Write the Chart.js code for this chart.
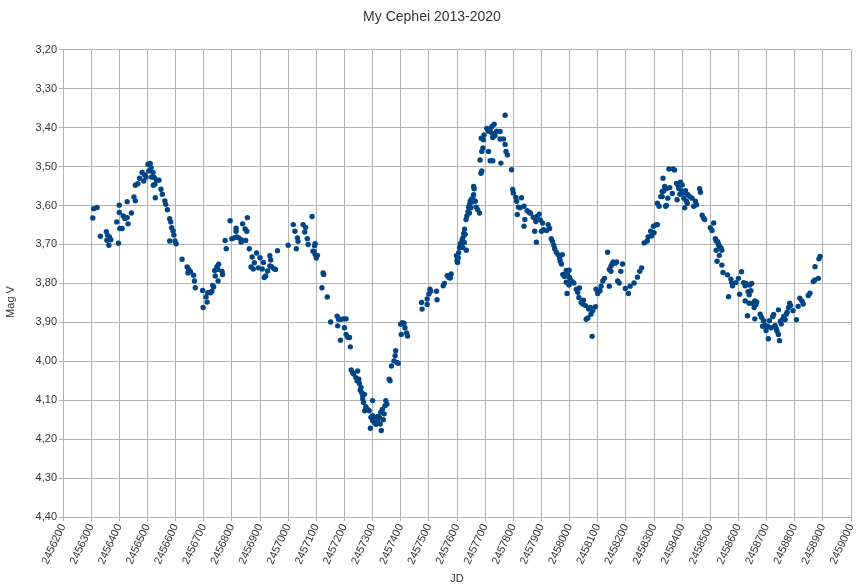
<!DOCTYPE html>
<html>
<head>
<meta charset="utf-8">
<script src="https://cdn.jsdelivr.net/npm/chart.js@4.4.1/dist/chart.umd.min.js"></script>
<style>
  html, body { margin: 0; padding: 0; background: #ffffff; }
  canvas { display: block; }
</style>
</head>
<body>
<canvas id="chart" width="864" height="588"></canvas>
<script>
// Julian dates and V magnitudes
const jd = [
  2456306, 2456309, 2456321, 2456333, 2456354, 2456358, 2456365, 2456356, 2456363, 2456370,
  2456397, 2456391, 2456402, 2456410, 2456400, 2456400, 2456414, 2456420, 2456431, 2456428,
  2456443, 2456428, 2456452, 2456457, 2456457, 2456466, 2456472, 2456481, 2456490, 2456495,
  2456487, 2456502, 2456510, 2456513, 2456505, 2456520, 2456514, 2456524, 2456532, 2456541,
  2456527, 2456521, 2456528, 2456548, 2456553, 2456562, 2456565, 2456571, 2456579, 2456583,
  2456586, 2456591, 2456594, 2456598, 2456602, 2456579, 2456623, 2456641, 2456647, 2456644,
  2456653, 2456664, 2456667, 2456670,
  2456696, 2456698, 2456708, 2456714, 2456712, 2456724, 2456729, 2456735, 2456732, 2456739,
  2456747, 2456753, 2456751, 2456741, 2456751, 2456765, 2456767, 2456776, 2456780, 2456794,
  2456800, 2456808, 2456815, 2456815, 2456818, 2456824, 2456833, 2456838, 2456847, 2456853,
  2456855, 2456849, 2456833, 2456862, 2456872, 2456888, 2456880, 2456900, 2456894, 2456908,
  2456912, 2456920, 2456927, 2456935, 2456938, 2456935, 2456941, 2456949, 2456962, 2456915,
  2456955, 2456868, 2456876, 2457000, 2457018, 2457024, 2457029, 2457033, 2457035, 2457053,
  2457059, 2457062, 2457068, 2457071, 2457085, 2457088, 2457094,
  2457096, 2457092, 2457096, 2457100, 2457104, 2457124, 2457126, 2457120, 2457139, 2457151,
  2457174, 2457179, 2457176, 2457188, 2457198, 2457206, 2457200, 2457206, 2457186, 2457212,
  2457221, 2457218, 2457224, 2457229, 2457233, 2457241, 2457247, 2457245, 2457251, 2457253,
  2457256, 2457259, 2457261, 2457265, 2457265, 2457268, 2457271, 2457276, 2457272, 2457282,
  2457288, 2457300, 2457294, 2457300, 2457306, 2457292, 2457312, 2457318, 2457324, 2457327,
  2457329, 2457335, 2457341, 2457344, 2457347, 2457351, 2457331, 2457338, 2457318, 2457300,
  2457306, 2457359, 2457362, 2457367, 2457376, 2457380, 2457382, 2457386, 2457391, 2457400,
  2457406, 2457412, 2457415, 2457402, 2457421, 2457424,
  2457474, 2457476, 2457494, 2457494, 2457500, 2457504, 2457506, 2457527, 2457529, 2457551,
  2457555, 2457565, 2457571, 2457576, 2457579, 2457598, 2457600, 2457602, 2457606, 2457609,
  2457612, 2457614, 2457618, 2457621, 2457624, 2457627, 2457629, 2457626, 2457621, 2457633,
  2457604, 2457602, 2457632, 2457635, 2457639, 2457641, 2457645, 2457647, 2457651, 2457653,
  2457656, 2457659, 2457661, 2457659, 2457665, 2457668, 2457673, 2457680, 2457649, 2457644,
  2457685, 2457688, 2457682, 2457688, 2457692, 2457686, 2457694, 2457696, 2457712, 2457706,
  2457718, 2457724, 2457732, 2457724, 2457727, 2457735, 2457741, 2457753, 2457753, 2457765,
  2457771, 2457774, 2457779, 2457712, 2457718, 2457727, 2457756, 2457771, 2457794, 2457798,
  2457800, 2457809, 2457812, 2457818, 2457824, 2457829, 2457838, 2457841, 2457838, 2457849,
  2457856, 2457871, 2457814,
  2457861, 2457873, 2457880, 2457885, 2457892, 2457896, 2457904, 2457900, 2457908, 2457918,
  2457924, 2457929, 2457876, 2457882, 2457935, 2457939, 2457944, 2457947, 2457953, 2457959,
  2457965, 2457967, 2457971, 2457974, 2457976, 2457982, 2457988, 2457991, 2457998, 2458000,
  2458002, 2457988, 2457998, 2458009, 2458015, 2457991, 2458024, 2458029, 2458035, 2458033,
  2458041, 2458047, 2458049, 2458056, 2458068, 2458074, 2458076, 2458082, 2458092, 2458065,
  2458059, 2458080, 2458094, 2458100, 2458108, 2458112, 2458118, 2458124, 2458135, 2458141,
  2458147, 2458151, 2458155, 2458162, 2458167, 2458147, 2458141, 2458171, 2458176, 2458182,
  2458188, 2458198, 2458209, 2458215, 2458229, 2458241, 2458249, 2458256, 2458265,
  2458276, 2458279, 2458291, 2458288, 2458298, 2458306, 2458312, 2458300, 2458312, 2458318,
  2458324, 2458329, 2458332, 2458338, 2458344, 2458349, 2458344, 2458356, 2458365, 2458353,
  2458368, 2458373, 2458380, 2458385, 2458382, 2458388, 2458394, 2458400, 2458397, 2458404,
  2458406, 2458409, 2458415, 2458420, 2458427, 2458435, 2458441, 2458447, 2458451, 2458462,
  2458465, 2458335, 2458329, 2458341, 2458392, 2458412, 2458418, 2458471, 2458476, 2458480,
  2458500, 2458506, 2458512, 2458518, 2458521, 2458526, 2458529, 2458532, 2458538, 2458541,
  2458521, 2458524, 2458532, 2458541, 2458545, 2458561, 2458573, 2458576, 2458579, 2458591,
  2458600, 2458611, 2458618, 2458627, 2458624, 2458640, 2458644, 2458565, 2458604, 2458624,
  2458632, 2458647,
  2458634, 2458638, 2458638, 2458650, 2458656, 2458658, 2458665, 2458662, 2458658, 2458677,
  2458682, 2458689, 2458686, 2458694, 2458704, 2458706, 2458698, 2458710, 2458716, 2458722,
  2458725, 2458730, 2458734, 2458737, 2458742, 2458746, 2458742, 2458749, 2458752, 2458758,
  2458761, 2458766, 2458770, 2458773, 2458778, 2458782, 2458785, 2458806, 2458794, 2458812,
  2458818, 2458826, 2458830, 2458848, 2458854, 2458866, 2458872, 2458884, 2458872, 2458886,
  2458890
]

const magV = [
  3.632, 3.608, 3.605, 3.679, 3.667, 3.676, 3.681, 3.689, 3.702, 3.688,
  3.697, 3.642, 3.659, 3.659, 3.599, 3.618, 3.627, 3.633, 3.647, 3.631,
  3.619, 3.590, 3.578, 3.588, 3.548, 3.544, 3.530, 3.515, 3.521, 3.527,
  3.537, 3.494, 3.492, 3.503, 3.511, 3.515, 3.527, 3.528, 3.534, 3.535,
  3.545, 3.548, 3.580, 3.558, 3.571, 3.588, 3.597, 3.611, 3.634, 3.642,
  3.657, 3.665, 3.676, 3.691, 3.698, 3.691, 3.738, 3.758, 3.764, 3.773,
  3.770, 3.779, 3.794, 3.811,
  3.818, 3.862, 3.835, 3.824, 3.848, 3.824, 3.820, 3.809, 3.805, 3.767,
  3.757, 3.751, 3.764, 3.781, 3.794, 3.769, 3.777, 3.690, 3.711, 3.639,
  3.685, 3.683, 3.658, 3.666, 3.681, 3.683, 3.688, 3.647, 3.660, 3.666,
  3.631, 3.690, 3.694, 3.711, 3.732, 3.722, 3.747, 3.734, 3.760, 3.763,
  3.746, 3.781, 3.768, 3.729, 3.740, 3.755, 3.757, 3.762, 3.716, 3.785,
  3.764, 3.758, 3.763, 3.702, 3.649, 3.666, 3.711, 3.683, 3.692, 3.649,
  3.668, 3.656, 3.685, 3.700, 3.628, 3.717, 3.703,
  3.698, 3.718, 3.726, 3.735, 3.728, 3.773, 3.777, 3.811, 3.835, 3.899,
  3.884, 3.892, 3.909, 3.892, 3.891, 3.891, 3.914, 3.931, 3.946, 3.938,
  3.963, 3.939, 4.022, 4.029, 4.033, 4.042, 4.025, 4.050, 4.046, 4.057,
  4.074, 4.067, 4.080, 4.088, 4.097, 4.106, 4.085, 4.117, 4.127, 4.123,
  4.127, 4.101, 4.144, 4.152, 4.144, 4.172, 4.162, 4.152, 4.144, 4.161,
  4.131, 4.123, 4.135, 4.114, 4.101, 4.110, 4.178, 4.150, 4.142, 4.140,
  4.157, 4.046, 4.050, 4.012, 3.999, 3.986, 3.973, 4.003, 4.005, 3.905,
  3.901, 3.903, 3.914, 3.931, 3.927, 3.935,
  3.849, 3.866, 3.840, 3.854, 3.827, 3.815, 3.820, 3.820, 3.842, 3.806,
  3.800, 3.780, 3.785, 3.786, 3.776, 3.729, 3.742, 3.746, 3.721, 3.708,
  3.698, 3.704, 3.689, 3.683, 3.672, 3.661, 3.674, 3.695, 3.708, 3.715,
  3.734, 3.738, 3.636, 3.627, 3.616, 3.604, 3.597, 3.589, 3.584, 3.591,
  3.582, 3.572, 3.557, 3.551, 3.589, 3.604, 3.610, 3.619, 3.606, 3.619,
  3.517, 3.511, 3.483, 3.461, 3.452, 3.427, 3.431, 3.419, 3.409, 3.402,
  3.403, 3.397, 3.391, 3.414, 3.425, 3.420, 3.409, 3.410, 3.429, 3.429,
  3.443, 3.461, 3.470, 3.461, 3.485, 3.485, 3.491, 3.368, 3.508, 3.559,
  3.568, 3.579, 3.589, 3.604, 3.606, 3.580, 3.602, 3.636, 3.653, 3.613,
  3.617, 3.630, 3.623,
  3.620, 3.631, 3.641, 3.628, 3.622, 3.637, 3.645, 3.666, 3.662, 3.664,
  3.649, 3.659, 3.666, 3.694, 3.685, 3.692, 3.702, 3.711, 3.720, 3.726,
  3.736, 3.743, 3.750, 3.726, 3.777, 3.782, 3.767, 3.776, 3.766, 3.785,
  3.791, 3.797, 3.804, 3.795, 3.799, 3.826, 3.815, 3.823, 3.812, 3.836,
  3.849, 3.853, 3.843, 3.857, 3.866, 3.862, 3.879, 3.870, 3.860, 3.889,
  3.892, 3.936, 3.815, 3.826, 3.819, 3.807, 3.794, 3.787, 3.720, 3.764,
  3.756, 3.750, 3.745, 3.748, 3.745, 3.769, 3.807, 3.794, 3.799, 3.769,
  3.750, 3.813, 3.826, 3.807, 3.799, 3.784, 3.769, 3.760, 3.696,
  3.691, 3.681, 3.678, 3.666, 3.653, 3.650, 3.649, 3.670, 3.594, 3.602,
  3.577, 3.564, 3.530, 3.551, 3.556, 3.581, 3.600, 3.554, 3.569, 3.506,
  3.506, 3.509, 3.543, 3.547, 3.585, 3.556, 3.540, 3.547, 3.562, 3.568,
  3.581, 3.606, 3.589, 3.572, 3.577, 3.581, 3.602, 3.589, 3.598, 3.557,
  3.566, 3.562, 3.577, 3.602, 3.571, 3.562, 3.594, 3.625, 3.632, 3.636,
  3.657, 3.664, 3.645, 3.685, 3.691, 3.693, 3.700, 3.704, 3.709, 3.715,
  3.715, 3.743, 3.728, 3.753, 3.772, 3.778, 3.789, 3.798, 3.806, 3.798,
  3.787, 3.770, 3.798, 3.800, 3.806, 3.804, 3.819, 3.834, 3.828, 3.845,
  3.883, 3.800,
  3.821, 3.829, 3.851, 3.851, 3.862, 3.845, 3.848, 3.855, 3.891, 3.879,
  3.887, 3.896, 3.910, 3.908, 3.910, 3.942, 3.921, 3.896, 3.914, 3.885,
  3.880, 3.908, 3.916, 3.923, 3.931, 3.947, 3.868, 3.897, 3.904, 3.891,
  3.885, 3.893, 3.879, 3.874, 3.862, 3.851, 3.857, 3.893, 3.870, 3.859,
  3.838, 3.846, 3.853, 3.831, 3.825, 3.795, 3.791, 3.787, 3.757, 3.737,
  3.731
]

const jdMin = 2456200
const jdMax = 2459000
const jdStep = 100
const magMin = 3.2
const magMax = 4.4
const magStep = 0.1

const FONT = 'Liberation Sans, Arial, sans-serif'
const TEXT = '#333333'
const GRID = '#b3b3b3'

function formatMag(value) {
  return Number(value).toFixed(2).replace('.', ',')
}

// the y title sits a bit below the axis centre in the original, so draw it by hand
const yTitlePlugin = {
  id: 'yTitle',
  afterDraw(chart) {
    const { ctx } = chart
    ctx.save()
    ctx.translate(11, 302)
    ctx.rotate(-Math.PI / 2)
    ctx.font = `11px ${FONT}`
    ctx.fillStyle = TEXT
    ctx.textAlign = 'center'
    ctx.textBaseline = 'middle'
    ctx.fillText('Mag V', 0, 0)
    ctx.restore()
  }
}

const points = jd.map((x, i) => ({ x, y: magV[i] }))

new Chart(document.getElementById('chart'), {
  type: 'scatter',
  data: {
    datasets: [{
      label: 'Mag V',
      data: points,
      backgroundColor: '#004586',
      borderColor: '#004586',
      borderWidth: 0,
      pointRadius: 2.7,
      pointHoverRadius: 2.7
    }]
  },
  plugins: [yTitlePlugin],
  options: {
    responsive: false,
    animation: false,
    layout: { padding: { left: 0, right: 0, top: 0, bottom: 0 } },
    plugins: {
      legend: { display: false },
      tooltip: { enabled: false },
      title: {
        display: true,
        text: 'My Cephei 2013-2020',
        color: TEXT,
        font: { family: FONT, size: 14, weight: 'normal' },
        padding: { top: 9, bottom: 24 }
      }
    },
    scales: {
      x: {
        type: 'linear',
        min: jdMin,
        max: jdMax,
        afterFit: (scale) => { scale.height = 71 },
        grid: { color: GRID, tickLength: 4 },
        border: { color: GRID },
        ticks: {
          stepSize: jdStep,
          autoSkip: false,
          minRotation: 65,
          maxRotation: 65,
          padding: 1,
          color: TEXT,
          font: { family: FONT, size: 11 },
          callback: (value) => String(Math.round(value))
        },
        title: {
          display: true,
          text: 'JD',
          color: TEXT,
          font: { family: FONT, size: 11 },
          padding: { top: 2, bottom: 2 }
        }
      },
      y: {
        reverse: true,
        min: magMin,
        max: magMax,
        afterFit: (scale) => { scale.width = 63 },
        grid: { color: GRID, tickLength: 4 },
        border: { color: GRID },
        ticks: {
          stepSize: magStep,
          padding: 2,
          color: TEXT,
          font: { family: FONT, size: 11 },
          callback: (value) => formatMag(value)
        }
      }
    }
  }
})
</script>
</body>
</html>
